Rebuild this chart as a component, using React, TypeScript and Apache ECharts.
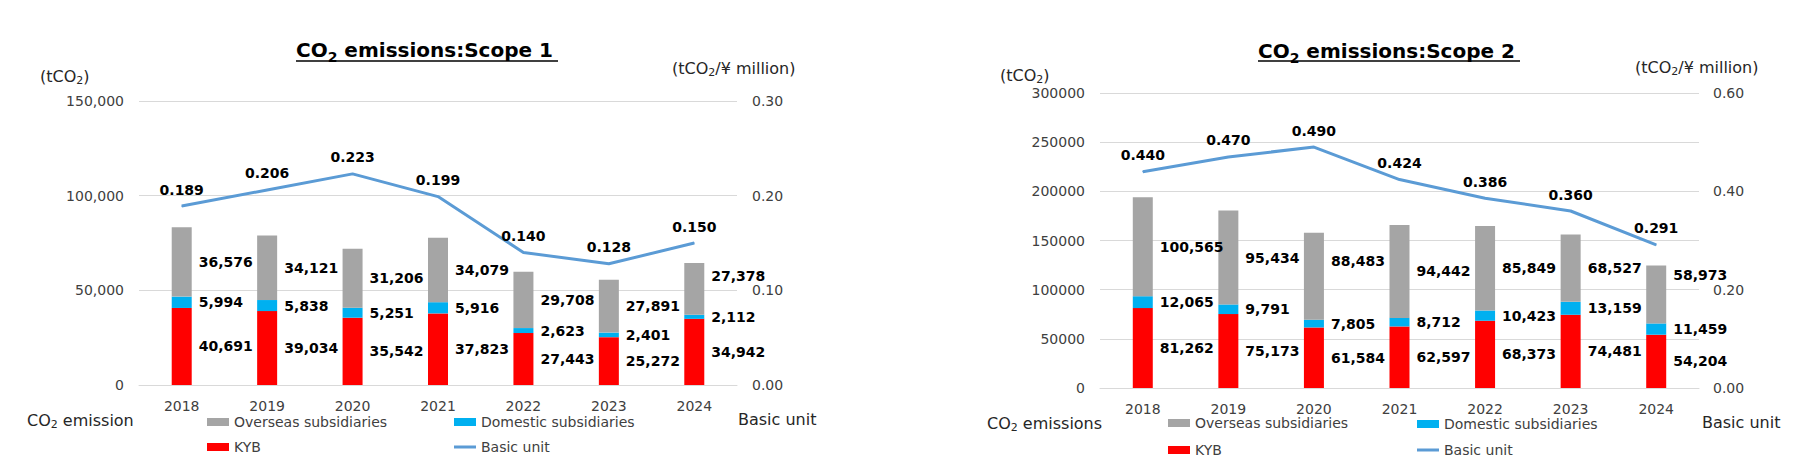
import { useEffect, useRef } from 'react'
import * as echarts from 'echarts'

const years = ['2018', '2019', '2020', '2021', '2022', '2023', '2024']

// Scope 1
const s1Kyb = [40691, 39034, 35542, 37823, 27443, 25272, 34942]
const s1Domestic = [5994, 5838, 5251, 5916, 2623, 2401, 2112]
const s1Overseas = [36576, 34121, 31206, 34079, 29708, 27891, 27378]
const s1Unit = [0.189, 0.206, 0.223, 0.199, 0.14, 0.128, 0.15]

// Scope 2
const s2Kyb = [81262, 75173, 61584, 62597, 68373, 74481, 54204]
const s2Domestic = [12065, 9791, 7805, 8712, 10423, 13159, 11459]
const s2Overseas = [100565, 95434, 88483, 94442, 85849, 68527, 58973]
const s2Unit = [0.44, 0.47, 0.49, 0.424, 0.386, 0.36, 0.291]

const FONT = 'DejaVu Sans'
const RED = '#FF0000'
const CYAN = '#00B0F0'
const GRAY = '#A5A5A5'
const BLUE = '#5B9BD5'
const GRID_LINE = '#D9D9D9'
const AXIS_TEXT = '#404040'

const richBase = (size: number, bold: boolean, color: string, lh: number) => ({
  m: { fontSize: size, fontFamily: FONT, fontWeight: bold ? 'bold' : 'normal', color, lineHeight: lh },
  s: {
    fontSize: Math.round(size * 0.68),
    fontFamily: FONT,
    fontWeight: bold ? 'bold' : 'normal',
    color,
    verticalAlign: 'bottom',
  },
})

function textBlock(text: string, left: number, top: number, size: number, bold = false, color = '#262626') {
  const lh = bold ? 28 : size + 4
  return {
    text,
    left,
    top,
    padding: 0,
    textStyle: { rich: richBase(size, bold, color, lh) },
  }
}

function legendItem(name: string, left: number, top: number, line = false) {
  return {
    data: [{ name, icon: 'rect' }],
    left,
    top,
    padding: 0,
    itemWidth: 22,
    itemHeight: line ? 3 : 8,
    textStyle: { fontSize: 14, fontFamily: FONT, color: AXIS_TEXT },
    selectedMode: false,
  }
}

const barLabel = {
  show: true,
  position: 'right',
  distance: 7,
  fontSize: 14,
  fontWeight: 'bold',
  fontFamily: FONT,
  color: '#000',
  formatter: (p: any) => Number(p.value).toLocaleString('en-US'),
}

const lineLabel = {
  show: true,
  position: 'top',
  distance: 9,
  fontSize: 14,
  fontWeight: 'bold',
  fontFamily: FONT,
  color: '#000',
  formatter: (p: any) => Number(p.value).toFixed(3),
}

// a few labels sit higher than the segment middle in the original
function barSeries(
  name: string,
  data: number[],
  color: string,
  axis: number,
  stack: string,
  lift: Record<number, number> = {},
) {
  return {
    name,
    type: 'bar',
    stack,
    xAxisIndex: axis,
    yAxisIndex: axis * 2,
    barWidth: 20,
    data: data.map((v, i) => (lift[i] ? { value: v, label: { offset: [0, -lift[i]] } } : v)),
    itemStyle: { color },
    label: barLabel,
  }
}

function lineSeries(data: number[], axis: number) {
  return {
    name: 'Basic unit',
    type: 'line',
    xAxisIndex: axis,
    yAxisIndex: axis * 2 + 1,
    data,
    symbol: 'circle',
    symbolSize: 1,
    itemStyle: { color: BLUE },
    lineStyle: { color: BLUE, width: 3 },
    label: lineLabel,
    z: 5,
  }
}

const axisLabelStyle = { fontSize: 14, fontFamily: FONT, color: AXIS_TEXT }

export default function App() {
  const elRef = useRef<HTMLDivElement>(null)

  useEffect(() => {
    document.body.style.margin = '0'
    if (!elRef.current) return
    const chart = echarts.init(elRef.current, null, { renderer: 'svg' })

    chart.setOption({
      animation: false,
      backgroundColor: '#fff',
      title: [
        textBlock('{m|CO}{s|2}{m| emissions:Scope 1 }', 296, 36, 20, true, '#000'),
        textBlock('{m|CO}{s|2}{m| emissions:Scope 2 }', 1258, 37, 20, true, '#000'),
        textBlock('{m|(tCO}{s|2}{m|)}', 40, 66, 16),
        textBlock('{m|(tCO}{s|2}{m|)}', 1000, 65, 16),
        textBlock('{m|(tCO}{s|2}{m|/¥ million)}', 672, 58, 16),
        textBlock('{m|(tCO}{s|2}{m|/¥ million)}', 1635, 57, 16),
        textBlock('{m|CO}{s|2}{m| emission}', 27, 410, 16),
        textBlock('{m|CO}{s|2}{m| emissions}', 987, 413, 16),
        textBlock('{m|Basic unit}', 738, 409, 16),
        textBlock('{m|Basic unit}', 1702, 412, 16),
      ],
      graphic: [
        { type: 'line', shape: { x1: 296, y1: 61, x2: 558, y2: 61 }, style: { stroke: '#000', lineWidth: 1.5 } },
        { type: 'line', shape: { x1: 1258, y1: 61, x2: 1520, y2: 61 }, style: { stroke: '#000', lineWidth: 1.5 } },
      ],
      legend: [
        legendItem('Overseas subsidiaries', 207, 415),
        legendItem('Domestic subsidiaries', 454, 415),
        legendItem('KYB', 207, 440),
        legendItem('Basic unit', 454, 440, true),
        legendItem('Overseas subsidiaries', 1168, 416),
        legendItem('Domestic subsidiaries', 1417, 417),
        legendItem('KYB', 1168, 443),
        legendItem('Basic unit', 1417, 443, true),
      ],
      grid: [
        { left: 139, top: 101, width: 598, height: 284 },
        { left: 1100, top: 93, width: 599, height: 295 },
      ],
      xAxis: [0, 1].map((i) => ({
        type: 'category',
        gridIndex: i,
        data: years,
        axisLine: { lineStyle: { color: GRID_LINE } },
        axisTick: { show: false },
        axisLabel: { ...axisLabelStyle, margin: 14 },
      })),
      yAxis: [
        {
          type: 'value',
          gridIndex: 0,
          min: 0,
          max: 150000,
          interval: 50000,
          axisLabel: { ...axisLabelStyle, margin: 15, formatter: (v: number) => v.toLocaleString('en-US') },
          splitLine: { lineStyle: { color: GRID_LINE } },
        },
        {
          type: 'value',
          gridIndex: 0,
          position: 'right',
          min: 0,
          max: 0.3,
          interval: 0.1,
          axisLabel: { ...axisLabelStyle, margin: 15, formatter: (v: number) => v.toFixed(2) },
          splitLine: { show: false },
        },
        {
          type: 'value',
          gridIndex: 1,
          min: 0,
          max: 300000,
          interval: 50000,
          axisLabel: { ...axisLabelStyle, margin: 15, formatter: (v: number) => String(v) },
          splitLine: { lineStyle: { color: GRID_LINE } },
        },
        {
          type: 'value',
          gridIndex: 1,
          position: 'right',
          min: 0,
          max: 0.6,
          interval: 0.2,
          axisLabel: { ...axisLabelStyle, margin: 14, formatter: (v: number) => v.toFixed(2) },
          splitLine: { show: false },
        },
      ],
      series: [
        barSeries('KYB', s1Kyb, RED, 0, 's1'),
        barSeries('Domestic subsidiaries', s1Domestic, CYAN, 0, 's1'),
        barSeries('Overseas subsidiaries', s1Overseas, GRAY, 0, 's1', { 6: 13 }),
        lineSeries(s1Unit, 0),
        barSeries('KYB', s2Kyb, RED, 1, 's2'),
        barSeries('Domestic subsidiaries', s2Domestic, CYAN, 1, 's2'),
        barSeries('Overseas subsidiaries', s2Overseas, GRAY, 1, 's2', { 2: 15, 6: 19 }),
        lineSeries(s2Unit, 1),
      ],
    })

    return () => chart.dispose()
  }, [])

  return <div ref={elRef} style={{ width: 1795, height: 463 }} />
}
